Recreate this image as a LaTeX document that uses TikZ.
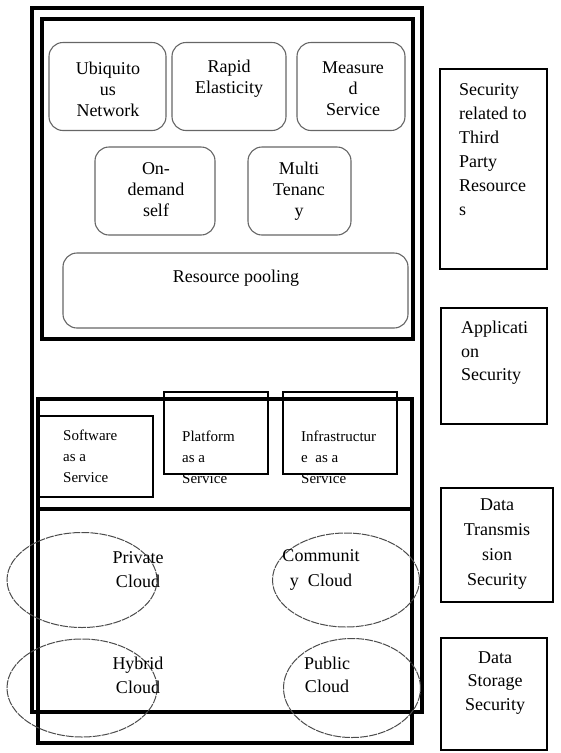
\documentclass[tikz,border=0pt]{standalone}
\usepackage{fontspec}
\setmainfont{Liberation Serif}
\usetikzlibrary{shapes.geometric}
\begin{document}
\begin{tikzpicture}[x=1pt,y=-1pt,
    frame/.style={draw,line width=3.2pt,inner sep=0pt},
    feature/.style={draw=black!60,rounded corners=14pt,line width=1.1pt,inner sep=0pt},
    service/.style={draw,line width=1.3pt,inner sep=0pt},
    concern/.style={draw,line width=1.8pt,inner sep=0pt},
    cloud/.style={ellipse,draw=black!70,line width=1pt,dash pattern=on 8pt off 1pt,inner sep=0pt},
    txt/.style={inner sep=0pt,font=\fontsize{18}{21}\selectfont},
    smalltxt/.style={inner sep=0pt,align=left,font=\fontsize{15}{21}\selectfont}]
  \useasboundingbox (0,0) rectangle (561,753);
  \path (227,360) node[frame,minimum width=390,minimum height=704](outer){}
        (227.5,179) node[frame,minimum width=371,minimum height=320](traits){}
        (225,571) node[frame,minimum width=374,minimum height=344](layers){};
  \coordinate (split) at (225,509);
  \draw[line width=3.2pt] (layers.west |- split) -- (layers.east |- split);
  % characteristics
  \path (107.5,86.5) node[feature,minimum width=117,minimum height=88](ubiq){}
        (229,86.5) node[feature,minimum width=114,minimum height=88](rapid){}
        (351,86.5) node[feature,minimum width=108,minimum height=88](measured){}
        (155,191) node[feature,minimum width=120,minimum height=88](ondemand){}
        (299.5,191) node[feature,minimum width=103,minimum height=88](multi){}
        (235.5,290.5) node[feature,minimum width=345,minimum height=75](pooling){};
  \path (108,89) node[txt,align=center](ubiqtxt){Ubiquito\\us\\Network}
        (229,79) node[txt,align=center](rapidtxt){Rapid\\Elasticity}
        (353,89) node[txt,align=center](measuredtxt){Measure\\d\\Service}
        (156,190) node[txt,align=center](ondemandtxt){On-\\demand\\self}
        (299,191) node[txt,align=center](multitxt){Multi\\Tenanc\\y}
        (236,278) node[txt](poolingtxt){Resource pooling};
  % service models
  \path (95.5,456.5) node[service,minimum width=115,minimum height=81](saas){}
        (216,433) node[service,minimum width=104,minimum height=82](paas){}
        (340,433) node[service,minimum width=114,minimum height=82](iaas){};
  \path (63,456) node[smalltxt,anchor=west](saastxt){Software\\as a\\Service}
        (182,457) node[smalltxt,anchor=west](paastxt){Platform\\as a\\Service}
        (301,457) node[smalltxt,anchor=west](iaastxt){Infrastructur\\e~ as a\\Service};
  % deployment models
  \path (82,580) node[cloud,minimum width=150,minimum height=95](private){}
        (82,688) node[cloud,minimum width=150,minimum height=98](hybrid){}
        (346,580) node[cloud,minimum width=147,minimum height=94](community){}
        (352,688) node[cloud,minimum width=137,minimum height=99](public){};
  \path (138,570) node[txt,align=center,font=\fontsize{18}{24}\selectfont](privatetxt){Private\\Cloud}
        (138,675) node[txt,align=center,font=\fontsize{18}{24}\selectfont](hybridtxt){Hybrid\\Cloud}
        (321,570) node[txt,align=center,font=\fontsize{18}{25}\selectfont](communitytxt){Communit\\y~ Cloud}
        (327,675) node[txt,align=center,font=\fontsize{18}{23}\selectfont](publictxt){Public\\Cloud};
  % security concerns
  \path (493.5,169) node[concern,minimum width=107,minimum height=200](thirdparty){}
        (494,366) node[concern,minimum width=106,minimum height=116](appsec){}
        (497,545) node[concern,minimum width=112,minimum height=114](transsec){}
        (494,694) node[concern,minimum width=106,minimum height=112](storesec){};
  \path (459,150) node[txt,anchor=west,align=left,font=\fontsize{18}{24}\selectfont](thirdtxt){Security\\related to\\Third\\Party\\Resource\\s}
        (461,353) node[txt,anchor=west,align=left,font=\fontsize{18}{23.5}\selectfont](apptxt){Applicati\\on\\Security}
        (497,544) node[txt,align=center,font=\fontsize{18}{24.7}\selectfont](transtxt){Data\\Transmis\\sion\\Security}
        (495,683) node[txt,align=center,font=\fontsize{18}{23.5}\selectfont](storetxt){Data\\Storage\\Security};
\end{tikzpicture}
\end{document}
